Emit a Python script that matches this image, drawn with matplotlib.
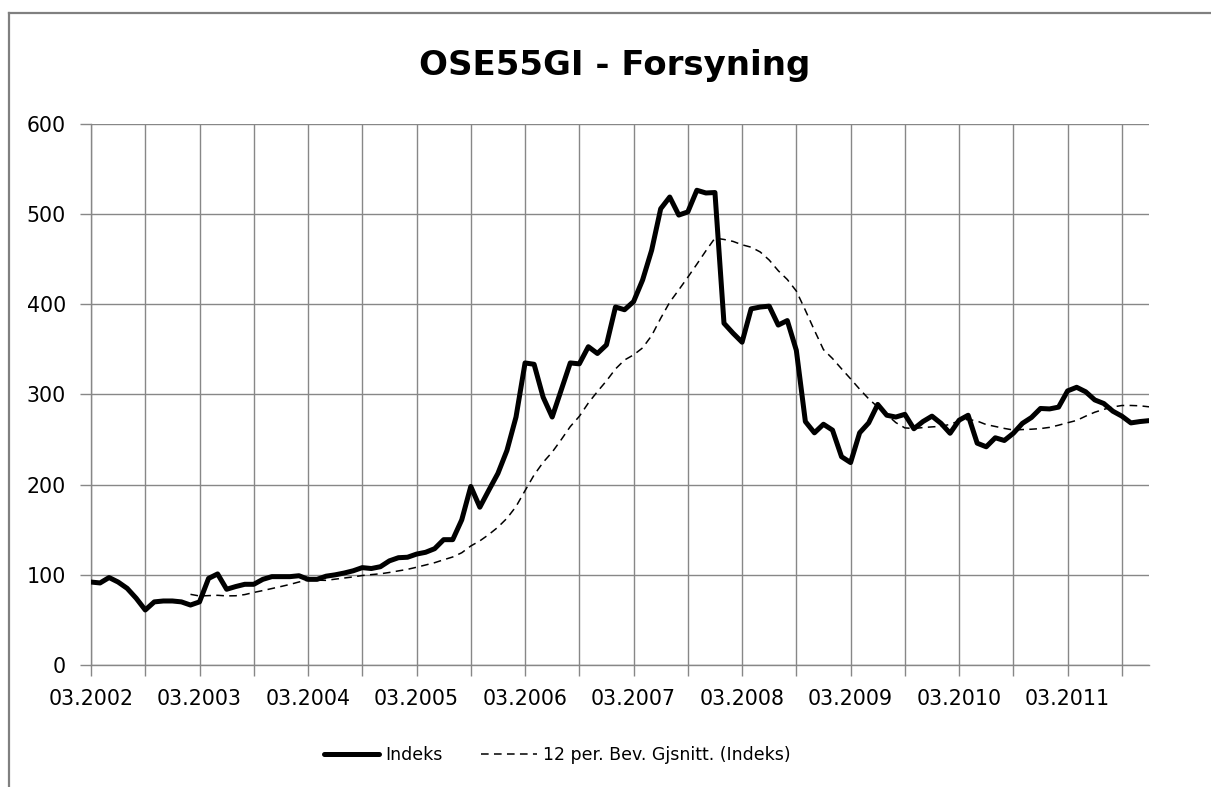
import matplotlib.pyplot as plt
import pandas as pd

# Monthly index values, 03.2002 - 12.2011
months = pd.date_range('2002-03-01', periods=118, freq='MS').strftime('%m.%Y').tolist()
indeks = [
    92, 91, 97, 92, 85, 74, 61, 70, 71, 71, 70, 66.5,          # 03.2002 - 02.2003
    70, 96, 101, 84, 87, 89.5, 89.5, 95, 98, 98, 98, 99,       # 03.2003 - 02.2004
    95, 95, 98.5, 100, 102, 104.5, 108, 107, 109, 115.5, 119, 119.5,  # 03.2004 -
    123, 125, 129, 139, 139, 161, 198, 175, 194, 212.5, 238, 275,     # 03.2005 -
    335, 333.5, 297, 275, 305, 335, 334, 353, 345.5, 355, 397, 394,   # 03.2006 -
    403, 427, 460, 506, 519, 499, 502.5, 526.5, 523.5, 524, 379, 368, # 03.2007 -
    358, 395, 397, 398, 377, 382, 349, 270, 257.5, 267, 260.5, 231,   # 03.2008 -
    224.5, 257.5, 268.5, 289, 277, 275, 278, 262, 270, 276, 268, 257, # 03.2009 -
    271.5, 277, 246, 242, 252, 249, 257, 268, 274.5, 284.5, 284, 286, # 03.2010 -
    304, 308, 303, 294, 290, 281.5, 276, 268.5, 270, 271,             # 03.2011 -
]

# 12 period moving average, as the Excel trendline
snitt = pd.Series(indeks).rolling(12).mean()

W, H = 1211, 787
fig = plt.figure(figsize=(W / 100, H / 100), dpi=100)
ax = fig.add_axes([91 / W, 1 - 665 / H, (1149 - 91) / W, (665 - 124) / H])

grid_col = '#878787'
x = list(range(len(indeks)))
ax.plot(x, indeks, color='black', lw=3.6, solid_joinstyle='round', solid_capstyle='round',
        label='Indeks', zorder=3)
ax.plot(x, snitt, color='black', lw=1.1, dashes=(5, 3.5),
        label='12 per. Bev. Gjsnitt. (Indeks)', zorder=3)

ax.set_xlim(0, len(indeks) - 1)
ax.set_ylim(0, 600)
ax.set_yticks(range(0, 601, 100))
ticks = list(range(0, len(indeks), 6))
ax.set_xticks(ticks)
ax.set_xticklabels([months[t] if months[t][:2] == '03' else '' for t in ticks])

ax.grid(True, color=grid_col, lw=1.0)
ax.set_axisbelow(True)
for s in ['top', 'right']:
    ax.spines[s].set_visible(False)
for s in ['left', 'bottom']:
    ax.spines[s].set_color(grid_col)
    ax.spines[s].set_linewidth(1.0)
ax.tick_params(axis='both', length=8, width=1.0, color=grid_col, labelsize=14.8)
ax.tick_params(axis='y', pad=10)
ax.tick_params(axis='x', pad=9)

fig.text(615 / W, 1 - 66 / H, 'OSE55GI - Forsyning', ha='center', va='center',
         fontsize=24.5, fontweight='bold')

ax.legend(loc='center', bbox_to_anchor=(557 / W, 1 - 755 / H), bbox_transform=fig.transFigure,
          ncol=2, frameon=False, fontsize=12.5, handlelength=3.2, handletextpad=0.35,
          columnspacing=2.2)

# chart border (top and left visible in the original crop)
fig.add_artist(plt.Line2D([8.5 / W, 1], [1 - 12.5 / H, 1 - 12.5 / H], color='#808080', lw=1.6))
fig.add_artist(plt.Line2D([8.5 / W, 8.5 / W], [0, 1 - 12.5 / H], color='#808080', lw=1.6))

fig.savefig('out.png', dpi=100)
